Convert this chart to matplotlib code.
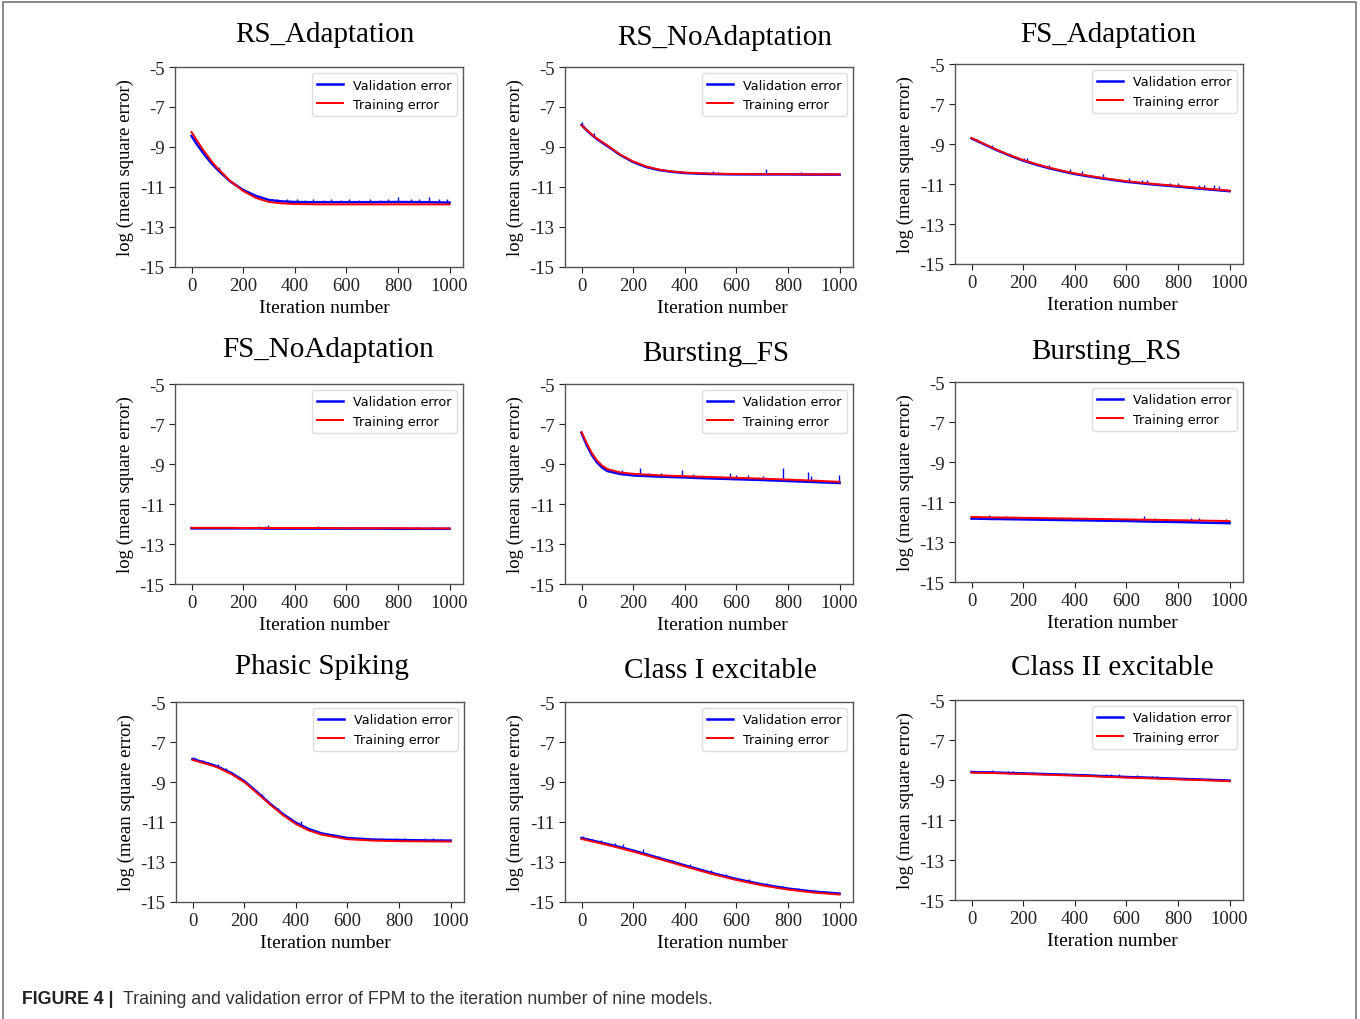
import numpy as np
import matplotlib
matplotlib.use('Agg')
import matplotlib.pyplot as plt
from matplotlib.lines import Line2D

# iteration grid shared by all curves
ITERS = [0, 20, 40, 60, 80, 100, 150, 200, 250, 300, 350, 400, 450, 500, 600, 700, 800, 900, 1000]

TITLES = ['RS_Adaptation', 'RS_NoAdaptation', 'FS_Adaptation',
          'FS_NoAdaptation', 'Bursting_FS', 'Bursting_RS',
          'Phasic Spiking', 'Class I excitable', 'Class II excitable']

# RS_Adaptation
train_rs_ad = [-8.25, -8.65, -9.05, -9.4, -9.75, -10.05, -10.7, -11.2, -11.55, -11.75,
               -11.82, -11.85, -11.86, -11.87, -11.87, -11.87, -11.87, -11.87, -11.87]
valid_rs_ad = [-8.45, -8.85, -9.2, -9.55, -9.85, -10.12, -10.72, -11.15, -11.45, -11.65,
               -11.72, -11.75, -11.76, -11.76, -11.76, -11.76, -11.75, -11.76, -11.78]
spike_it_rs_ad = [105, 170, 235, 260, 290, 330, 370, 410, 440, 470, 510, 540, 580, 610, 650,
                  690, 730, 760, 800, 850, 880, 920, 960, 990]
spike_top_rs_ad = [-10.0, -10.85, -11.35, -11.5, -11.55, -11.6, -11.62, -11.6, -11.64, -11.62,
                   -11.64, -11.62, -11.64, -11.62, -11.64, -11.6, -11.64, -11.62, -11.5, -11.6,
                   -11.62, -11.52, -11.58, -11.62]

# RS_NoAdaptation
train_rs_no = [-7.92, -8.15, -8.38, -8.58, -8.75, -8.92, -9.38, -9.72, -9.97, -10.13,
               -10.22, -10.28, -10.31, -10.33, -10.35, -10.36, -10.36, -10.37, -10.37]
valid_rs_no = [-7.9, -8.16, -8.4, -8.6, -8.78, -8.95, -9.4, -9.75, -10.0, -10.15,
               -10.24, -10.3, -10.33, -10.35, -10.37, -10.37, -10.37, -10.38, -10.38]
spike_it_rs_no = [0, 50, 370, 420, 480, 510, 530, 560, 620, 715, 850, 880, 940]
spike_top_rs_no = [-7.75, -8.3, -10.2, -10.25, -10.25, -10.22, -10.25, -10.28, -10.3, -10.08,
                   -10.25, -10.3, -10.3]

# FS_Adaptation
train_fs_ad = [-8.7, -8.82, -8.94, -9.06, -9.18, -9.3, -9.57, -9.8, -10.0, -10.18,
               -10.33, -10.47, -10.58, -10.68, -10.86, -10.99, -11.1, -11.22, -11.33]
valid_fs_ad = [-8.72, -8.84, -8.96, -9.08, -9.2, -9.32, -9.59, -9.83, -10.03, -10.21,
               -10.36, -10.5, -10.61, -10.71, -10.89, -11.02, -11.13, -11.25, -11.36]
spike_it_fs_ad = [20, 80, 150, 205, 215, 300, 380, 430, 510, 610, 660, 680, 770, 800, 880,
                  900, 940, 960]
spike_top_fs_ad = [-8.75, -9.05, -9.45, -9.68, -9.7, -10.05, -10.25, -10.35, -10.52, -10.7,
                   -10.82, -10.78, -10.95, -10.95, -11.05, -11.05, -11.05, -11.12]

# FS_NoAdaptation
train_fs_no = [-12.19, -12.19, -12.19, -12.19, -12.19, -12.19, -12.19, -12.2, -12.2, -12.2,
               -12.2, -12.2, -12.2, -12.2, -12.21, -12.21, -12.21, -12.22, -12.22]
valid_fs_no = [-12.22, -12.22, -12.22, -12.22, -12.22, -12.22, -12.22, -12.22, -12.22, -12.23,
               -12.23, -12.23, -12.23, -12.23, -12.23, -12.23, -12.24, -12.24, -12.24]
spike_it_fs_no = [60, 100, 140, 180, 220, 260, 285, 295, 330, 380, 470, 490, 520, 560, 650,
                  720, 760, 830, 870, 930]
spike_top_fs_no = [-12.15, -12.15, -12.15, -12.14, -12.13, -12.12, -12.08, -12.03, -12.14,
                   -12.15, -12.13, -12.12, -12.13, -12.15, -12.15, -12.15, -12.15, -12.14,
                   -12.15, -12.15]

# Bursting_FS
train_b_fs = [-7.4, -7.95, -8.45, -8.82, -9.08, -9.25, -9.42, -9.49, -9.53, -9.56,
              -9.59, -9.61, -9.63, -9.65, -9.69, -9.73, -9.78, -9.83, -9.89]
valid_b_fs = [-7.45, -8.05, -8.55, -8.92, -9.18, -9.35, -9.5, -9.57, -9.6, -9.63,
              -9.65, -9.67, -9.7, -9.72, -9.76, -9.8, -9.85, -9.9, -9.95]
spike_it_b_fs = [60, 157, 228, 258, 307, 390, 432, 575, 600, 645, 703, 780, 877, 889, 997]
spike_top_b_fs = [-8.86, -9.28, -9.2, -9.45, -9.45, -9.28, -9.5, -9.45, -9.55, -9.55,
                  -9.6, -9.2, -9.4, -9.6, -9.53]

# Bursting_RS
train_b_rs = [-11.75, -11.75, -11.76, -11.76, -11.77, -11.77, -11.78, -11.79, -11.8, -11.81,
              -11.82, -11.83, -11.84, -11.85, -11.87, -11.89, -11.91, -11.93, -11.95]
valid_b_rs = [-11.83, -11.83, -11.84, -11.84, -11.85, -11.85, -11.86, -11.87, -11.88, -11.89,
              -11.9, -11.91, -11.92, -11.93, -11.95, -11.98, -12.0, -12.03, -12.06]
spike_it_b_rs = [68, 132, 388, 510, 667, 711, 849, 881, 900, 987]
spike_top_b_rs = [-11.67, -11.68, -11.8, -11.82, -11.7, -11.78, -11.82, -11.8, -11.88, -11.85]

# Phasic Spiking
train_ps = [-7.9, -7.97, -8.05, -8.12, -8.2, -8.29, -8.6, -9.0, -9.55, -10.12,
            -10.65, -11.1, -11.42, -11.63, -11.86, -11.93, -11.96, -11.97, -11.98]
valid_ps = [-7.85, -7.93, -8.0, -8.08, -8.15, -8.25, -8.55, -8.95, -9.5, -10.08,
            -10.6, -11.03, -11.35, -11.57, -11.8, -11.88, -11.9, -11.92, -11.93]
spike_it_ps = [5, 15, 40, 60, 100, 130, 175, 185, 195, 270, 330, 420, 480, 530, 560, 630,
               700, 790, 820, 900, 930, 960]
spike_top_ps = [-7.75, -7.78, -7.92, -7.98, -8.12, -8.3, -8.85, -8.88, -8.95, -9.6, -10.3,
                -10.95, -11.5, -11.72, -11.75, -11.78, -11.8, -11.8, -11.82, -11.8, -11.82,
                -11.85]

# Class I excitable
train_c1 = [-11.85, -11.91, -11.97, -12.03, -12.09, -12.15, -12.31, -12.48, -12.66, -12.85,
            -13.03, -13.22, -13.4, -13.58, -13.9, -14.17, -14.38, -14.53, -14.63]
valid_c1 = [-11.8, -11.86, -11.92, -11.98, -12.04, -12.1, -12.26, -12.43, -12.61, -12.8,
            -12.98, -13.17, -13.35, -13.53, -13.85, -14.12, -14.33, -14.48, -14.58]
spike_it_c1 = [5, 40, 75, 130, 160, 240, 300, 350, 420, 500, 560, 650, 720, 780, 840, 900, 960]
spike_top_c1 = [-11.68, -11.85, -11.9, -12.05, -12.12, -12.35, -12.7, -12.88, -13.1, -13.38,
                -13.6, -13.85, -14.05, -14.18, -14.3, -14.4, -14.48]

# Class II excitable
train_c2 = [-8.63, -8.64, -8.64, -8.65, -8.65, -8.66, -8.68, -8.7, -8.72, -8.74,
            -8.76, -8.78, -8.8, -8.83, -8.88, -8.92, -8.97, -9.01, -9.06]
valid_c2 = [-8.6, -8.61, -8.61, -8.62, -8.62, -8.63, -8.65, -8.67, -8.69, -8.71,
            -8.73, -8.75, -8.77, -8.8, -8.85, -8.89, -8.94, -8.98, -9.03]
spike_it_c2 = [50, 80, 140, 160, 240, 340, 400, 520, 540, 570, 640, 660, 700, 720, 840, 900, 960]
spike_top_c2 = [-8.55, -8.52, -8.57, -8.57, -8.62, -8.66, -8.7, -8.72, -8.68, -8.72, -8.75,
                -8.78, -8.8, -8.78, -8.9, -8.93, -8.95]

TRAIN = [train_rs_ad, train_rs_no, train_fs_ad, train_fs_no, train_b_fs, train_b_rs,
         train_ps, train_c1, train_c2]
VALID = [valid_rs_ad, valid_rs_no, valid_fs_ad, valid_fs_no, valid_b_fs, valid_b_rs,
         valid_ps, valid_c1, valid_c2]
SPIKE_IT = [spike_it_rs_ad, spike_it_rs_no, spike_it_fs_ad, spike_it_fs_no, spike_it_b_fs,
            spike_it_b_rs, spike_it_ps, spike_it_c1, spike_it_c2]
SPIKE_TOP = [spike_top_rs_ad, spike_top_rs_no, spike_top_fs_ad, spike_top_fs_no,
             spike_top_b_fs, spike_top_b_rs, spike_top_ps, spike_top_c1, spike_top_c2]

X_TICKS = [0, 200, 400, 600, 800, 1000]
Y_TICKS = [-5, -7, -9, -11, -13, -15]

W, H = 1360, 1020
# axes boxes in pixels: left, top, right, bottom
BOXES = [(175, 68, 463, 268), (565, 68, 853, 268), (955, 65, 1243, 265),
         (175, 385, 463, 585), (565, 385, 853, 585), (955, 383, 1243, 583),
         (176, 703, 464, 903), (565, 703, 853, 903), (955, 701, 1243, 901)]
TITLE_POS = [(325, 35), (725, 38), (1108, 35), (328, 350), (716, 354), (1106, 352),
             (322, 667), (720, 671), (1112, 668)]
XLABEL_X = [0.52, 0.545, 0.545]  # x label centre, axes fraction, per column

SERIF = 'Liberation Serif'
plt.rcParams['axes.unicode_minus'] = False

fig = plt.figure(figsize=(W / 100, H / 100), dpi=100)

for i in range(9):
    l, t, r, b = BOXES[i]
    ax = fig.add_axes([l / W, 1 - b / H, (r - l) / W, (b - t) / H])
    ax.plot(ITERS, VALID[i], color='blue', lw=1.8, label='Validation error')
    base = np.interp(SPIKE_IT[i], ITERS, VALID[i])
    ax.vlines(SPIKE_IT[i], base, SPIKE_TOP[i], color='blue', lw=1.0)
    ax.plot(ITERS, TRAIN[i], color='red', lw=1.4, label='Training error')
    ax.set_xlim(-64, 1052)
    ax.set_ylim(-15, -5)
    ax.set_xticks(X_TICKS)
    ax.set_yticks(Y_TICKS)
    ax.set_xticklabels([str(v) for v in X_TICKS], family=SERIF, fontsize=13.5)
    ax.set_yticklabels([str(v) for v in Y_TICKS], family=SERIF, fontsize=13.5)
    ax.tick_params(colors='#222222', length=4, width=0.8)
    for s in ax.spines.values():
        s.set_color('#555555')
        s.set_linewidth(1.0)
    ax.set_xlabel('Iteration number', family=SERIF, fontsize=14, labelpad=2)
    ax.xaxis.set_label_coords(XLABEL_X[i % 3], -0.16)
    ax.set_ylabel('log (mean square error)', family=SERIF, fontsize=13.5, labelpad=4)
    ax.legend(loc='upper right', fontsize=9.2, framealpha=1.0, edgecolor='#dddddd',
              fancybox=True)
    tx, ty = TITLE_POS[i]
    fig.text(tx / W, 1 - ty / H, TITLES[i], family=SERIF, fontsize=21,
             ha='center', va='center')

# frame around the figure
fig.add_artist(Line2D([3 / W, 3 / W, 1356 / W, 1356 / W], [0, 1 - 3 / H, 1 - 3 / H, 0],
                      transform=fig.transFigure, color='#777777', lw=1.2))

# caption
fig.text(22 / W, 1 - 1000 / H, 'FIGURE 4 |', family='Liberation Sans', fontweight='bold',
         fontsize=12.8, color='#222222', va='center')
fig.text(123 / W, 1 - 1000 / H,
         'Training and validation error of FPM to the iteration number of nine models.',
         family='Liberation Sans', fontsize=12.8, color='#333333', va='center')

fig.savefig('out.png', dpi=100)
